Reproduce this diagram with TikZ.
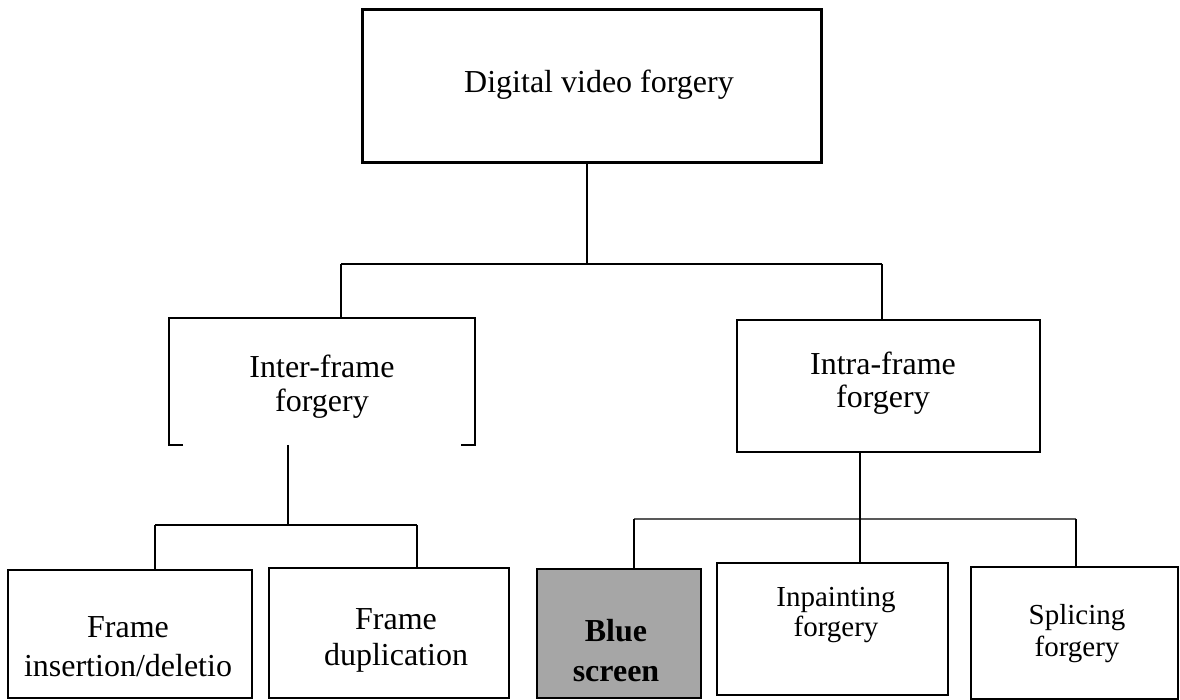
\documentclass[tikz,border=0pt]{standalone}
\usepackage{fontspec}
\setmainfont{Liberation Serif}
\begin{document}
\begin{tikzpicture}[x=1pt,y=1pt,
  box/.style={draw=black, line width=1.8pt, inner sep=0, outer sep=0, rectangle},
  txt/.style={font=\fontsize{32}{36}\selectfont, anchor=base, inner sep=0},
  smalltxt/.style={font=\fontsize{29}{33}\selectfont, anchor=base, inner sep=0},
  conn/.style={draw=black, line width=1.8pt},
  bus/.style={draw=black!65, line width=1.8pt}]
\useasboundingbox (0,0) rectangle (1180,700);
\fill[white] (0,0) rectangle (1180,700);

% boxes
\node[box, line width=3pt, minimum width=459, minimum height=153] (top) at (591.5,613.5) {};
\node[inner sep=0, outer sep=0, minimum width=306, minimum height=127] (inter) at (322,318.5) {};
\draw[line width=1.8pt] ([xshift=14]inter.south west) -- (inter.south west) -- (inter.north west) -- (inter.north east) -- (inter.south east) -- ([xshift=-14]inter.south east);
\node[box, line width=2.6pt, minimum width=303, minimum height=132] (intra) at (888.5,314) {};
\node[box, minimum width=244, minimum height=128] (ins) at (130,66) {};
\node[box, minimum width=240, minimum height=130] (dup) at (389,67) {};
\node[box, fill={rgb,255:red,166;green,166;blue,166}, minimum width=164, minimum height=129] (blue) at (619,66.5) {};
\node[box, minimum width=231, minimum height=132] (inp) at (832.5,71) {};
\node[box, minimum width=207, minimum height=132] (spl) at (1074.5,67) {};

% texts
\node[txt] (ttop) at (599,607) {Digital video forgery};
\node[txt] (tinter1) at (322,322) {Inter-frame};
\node[txt] (tinter2) at (322,288) {forgery};
\node[txt] (tintra1) at (883,325) {Intra-frame};
\node[txt] (tintra2) at (883,292) {forgery};
\node[txt] (tins1) at (128,62) {Frame};
\node[txt] (tins2) at (128,23) {insertion/deletio};
\node[txt] (tdup1) at (396,70) {Frame};
\node[txt] (tdup2) at (396,34) {duplication};
\node[txt, font=\fontsize{32}{36}\selectfont\bfseries] (tblue1) at (616,58) {Blue};
\node[txt, font=\fontsize{32}{36}\selectfont\bfseries] (tblue2) at (616,18) {screen};
\node[smalltxt] (tinp1) at (836,93) {Inpainting};
\node[smalltxt] (tinp2) at (836,63) {forgery};
\node[smalltxt] (tspl1) at (1077,75) {Splicing};
\node[smalltxt] (tspl2) at (1077,43) {forgery};

% junction coordinates
\coordinate (j0) at (587,436);
\coordinate (jL) at (341,436);
\coordinate (jR) at (882,436);
\coordinate (k0) at (288,175);
\coordinate (kL) at (155,175);
\coordinate (kR) at (417,175);
\coordinate (m0) at (860,181);
\coordinate (mL) at (634,181);
\coordinate (mR) at (1076,181);

% level 1
\draw[conn] (top.south -| j0) -- (j0);
\draw[conn] (jL) -- (jR);
\draw[conn] (jL) -- (inter.north -| jL);
\draw[conn] (jR) -- (intra.north -| jR);

% inter-frame children
\draw[conn] (inter.south -| k0) -- (k0);
\draw[conn] (kL) -- (kR);
\draw[conn] (kL) -- (ins.north -| kL);
\draw[conn] (kR) -- (dup.north -| kR);

% intra-frame children
\draw[bus] (mL) -- (mR);
\draw[conn] (intra.south -| m0) -- (inp.north -| m0);
\draw[conn] (mL) -- (blue.north -| mL);
\draw[conn] (mR) -- (spl.north -| mR);
\end{tikzpicture}
\end{document}
